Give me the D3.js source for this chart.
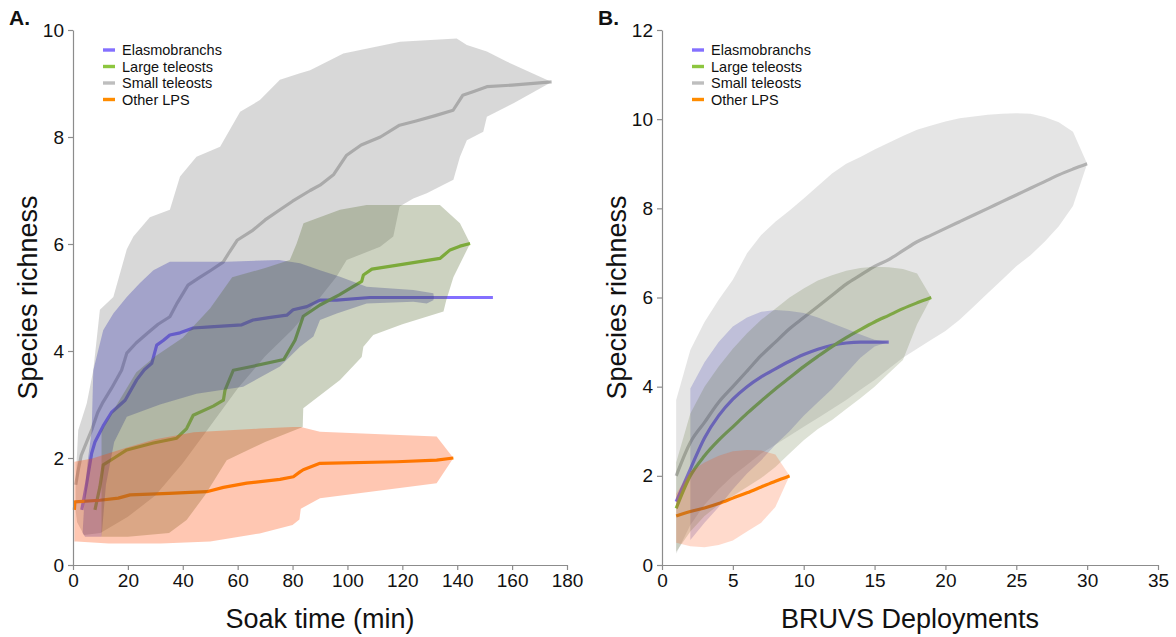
<!DOCTYPE html>
<html>
<head>
<meta charset="utf-8">
<script src="https://cdn.jsdelivr.net/npm/d3@7"></script>
<style>
  body { margin: 0; background: #fff; }
  svg { display: block; }
  text { font-family: "Liberation Sans", Arial, sans-serif; fill: #111; }
</style>
</head>
<body>
<svg id="chart" width="1176" height="637"></svg>
<script>
// ---- groups and colours ----
const groups = ["Elasmobranchs", "Large teleosts", "Small teleosts", "Other LPS"];
const lineColours = ["#8470ff", "#8dc63f", "#bebebe", "#ff8c00"];
const bandColours = ["#2828aa", "#556b2f", "#7f7f7f", "#ff4500"];

// ---- axis ticks ----
const soakTicks = [0, 20, 40, 60, 80, 100, 120, 140, 160, 180];
const soakRichnessTicks = [0, 2, 4, 6, 8, 10];
const deployTicks = [0, 5, 10, 15, 20, 25, 30, 35];
const deployRichnessTicks = [0, 2, 4, 6, 8, 10, 12];

// ---- A: richness against soak time (min), [minutes, richness] ----
const soakElasmoMean = [[3.2,1.03],[5,1.53],[6.8,2.09],[8,2.3],[11,2.6],[14,2.85],[19,3.08],[23.2,3.46],[26,3.65],[28.7,3.77],[30.5,4.11],[33,4.2],[35.3,4.3],[39,4.34],[43.8,4.43],[50,4.45],[61.5,4.49],[65.6,4.58],[72,4.63],[77.9,4.67],[80.2,4.77],[85.2,4.83],[90,4.95],[96.1,4.95],[108.2,5.0],[130,5.0],[153,5.0]];
const soakElasmoUpper = [[3.5,0.6],[4.5,1.5],[5.5,2.0],[6.8,2.5],[7.4,3.64],[11,4.39],[14.7,4.7],[19.6,5.01],[24.4,5.27],[29.3,5.51],[35.3,5.67],[56,5.67],[75,5.7],[82.7,5.64],[90,5.51],[97.3,5.39],[107,5.2],[124,5.14],[131.3,5.08],[131.5,5.0]];
const soakElasmoLower = [[3.5,0.6],[4.4,0.53],[10.4,0.53],[12,1.5],[15,2.3],[19.6,2.77],[31.7,3.0],[45,3.2],[62,3.33],[75.4,3.71],[82.7,4.08],[87.6,4.27],[90,4.58],[96.1,4.7],[107,4.89],[124,4.92],[128.9,4.89],[131.3,4.95],[131.5,5.0]];

const soakLargeMean = [[8,1.03],[9.8,1.46],[11,1.87],[15,2.0],[19.6,2.15],[29.3,2.28],[37.8,2.37],[41.4,2.55],[43.8,2.8],[51.1,2.97],[54.8,3.08],[55.4,3.27],[58.4,3.64],[66,3.72],[76.8,3.84],[80.9,4.2],[83.9,4.65],[90,4.86],[97,5.05],[105.2,5.3],[105.8,5.42],[108.9,5.53],[120,5.62],[133.7,5.73],[137.4,5.89],[141,5.96],[144.7,6.01]];
const soakLargeUpper = [[10.4,0.53],[10.4,2.5],[16,3.0],[23,3.6],[30,3.9],[40,4.25],[50,4.8],[58,5.38],[70,5.55],[79,5.7],[81.5,6.01],[84,6.39],[97.3,6.64],[107,6.73],[133.7,6.73],[141,6.39],[144.7,6.01]];
const soakLargeLower = [[10.4,0.53],[20,0.53],[35,0.6],[41.4,0.84],[48,1.3],[56,1.96],[70,2.3],[83.7,2.58],[83.9,2.93],[97.3,3.46],[105.2,3.89],[105.8,4.08],[109.4,4.3],[120,4.5],[135,4.74],[136,4.95],[138.6,5.38],[144.7,6.01]];

const soakSmallMean = [[1,1.5],[2,1.8],[3,2.05],[5,2.3],[7,2.55],[9,2.85],[11,3.05],[14,3.3],[17.7,3.64],[19.6,3.96],[23,4.15],[27.3,4.34],[31,4.5],[35.3,4.64],[38,4.9],[41.9,5.23],[46.3,5.38],[50,5.5],[54.7,5.66],[57,5.85],[59.8,6.07],[65.6,6.26],[70,6.45],[75.4,6.64],[80,6.8],[86.4,7.0],[90,7.1],[95,7.3],[99.7,7.66],[105,7.85],[112,8.0],[119,8.22],[125,8.3],[132,8.4],[138.5,8.5],[142,8.78],[146,8.85],[150.8,8.94],[160,8.97],[174.4,9.03]];
const soakSmallUpper = [[1,1.0],[1,1.6],[1.9,2.52],[5,3.02],[7.4,3.64],[9.8,4.77],[14.7,5.01],[19.6,5.9],[22,6.14],[28,6.5],[35.3,6.64],[39,7.26],[45,7.63],[53.6,7.82],[60.9,8.47],[68.1,8.69],[75.4,9.07],[82.7,9.19],[86.4,9.25],[98.5,9.56],[119.2,9.78],[139.8,9.84],[143.5,9.72],[150.8,9.6],[158,9.41],[174.4,9.03]];
const soakSmallLower = [[1,1.0],[1.5,0.8],[4,0.56],[10,0.6],[20,0.9],[30,1.3],[40,1.9],[50,2.6],[60,3.3],[70,3.9],[80,4.4],[90,5.0],[96,5.39],[99.7,5.7],[111.9,5.95],[116.7,6.14],[119,6.7],[124,6.85],[128.9,6.95],[138.6,7.2],[141,7.63],[143.5,7.94],[149.5,8.1],[150.8,8.38],[160.5,8.63],[174.4,9.03]];

const soakOtherMean = [[0.5,1.03],[0.7,1.18],[9.8,1.21],[16.5,1.25],[20.8,1.31],[35,1.34],[48.7,1.37],[54.8,1.45],[63.3,1.53],[75.4,1.6],[80.3,1.65],[82.7,1.74],[83.9,1.78],[90,1.9],[118,1.93],[132.5,1.96],[138.6,2.0]];
const soakOtherUpper = [[0.5,0.44],[0.5,1.93],[7,1.99],[20,2.2],[30,2.35],[44,2.48],[68,2.55],[80,2.58],[83,2.58],[90,2.49],[110,2.45],[132.5,2.4],[138.6,2.0]];
const soakOtherLower = [[0.5,0.44],[1.3,0.44],[13,0.4],[32,0.4],[50,0.44],[68,0.59],[80,0.75],[82.5,0.85],[83,1.05],[90,1.25],[132.5,1.53],[138.6,2.0]];

// ---- B: richness against number of BRUVS deployments ----
const deployN = [1, 2, 3, 4, 5, 6, 7, 8, 9, 10, 11, 12, 13, 14, 15, 16, 17, 18, 19, 20, 21, 22, 23, 24, 25, 26, 27, 28, 29, 30];

const deployElasmoMean  = [1.42, 2.15, 2.85, 3.35, 3.72, 4.0, 4.22, 4.4, 4.57, 4.72, 4.84, 4.93, 4.98, 5.0, 5.0, 5.0];
const deployElasmoBandN = [2, 3, 4, 5, 6, 7, 8, 9, 10, 11, 12, 13, 14, 15, 16];
const deployElasmoUpper = [3.96, 4.55, 5.0, 5.35, 5.55, 5.68, 5.72, 5.7, 5.65, 5.55, 5.42, 5.3, 5.17, 5.05, 5.0];
const deployElasmoLower = [0.56, 0.95, 1.3, 1.7, 2.05, 2.35, 2.7, 3.0, 3.35, 3.65, 3.95, 4.3, 4.65, 4.9, 5.0];

const deployLargeMean  = [1.27, 2.0, 2.45, 2.8, 3.1, 3.4, 3.68, 3.95, 4.2, 4.45, 4.68, 4.9, 5.1, 5.28, 5.45, 5.6, 5.75, 5.88, 6.0];
const deployLargeUpper = [2.3, 3.4, 4.0, 4.45, 4.85, 5.2, 5.5, 5.75, 6.0, 6.2, 6.38, 6.5, 6.6, 6.66, 6.69, 6.68, 6.64, 6.54, 6.0];
const deployLargeLower = [0.3, 0.75, 1.1, 1.35, 1.55, 1.75, 1.95, 2.2, 2.5, 2.8, 3.05, 3.25, 3.5, 3.74, 4.0, 4.3, 4.6, 5.4, 6.0];

const deploySmallMean  = [2.0, 2.75, 3.2, 3.65, 4.0, 4.35, 4.7, 5.0, 5.3, 5.55, 5.8, 6.05, 6.3, 6.5, 6.7, 6.85, 7.05, 7.25, 7.4, 7.55, 7.7, 7.85, 8.0, 8.15, 8.3, 8.45, 8.6, 8.75, 8.88, 9.0];
const deploySmallUpper = [3.7, 4.82, 5.45, 5.95, 6.4, 6.99, 7.4, 7.7, 7.95, 8.22, 8.5, 8.78, 9.0, 9.15, 9.32, 9.47, 9.62, 9.76, 9.86, 9.95, 10.02, 10.06, 10.1, 10.12, 10.13, 10.12, 10.05, 9.93, 9.72, 9.0];
const deploySmallLower = [0.25, 0.9, 1.35, 1.7, 2.0, 2.25, 2.5, 2.7, 2.9, 3.1, 3.3, 3.5, 3.7, 3.93, 4.15, 4.4, 4.65, 4.85, 5.05, 5.25, 5.5, 5.8, 6.1, 6.4, 6.7, 6.95, 7.25, 7.6, 8.05, 9.0];

const deployOtherMean  = [1.1, 1.2, 1.28, 1.38, 1.5, 1.62, 1.75, 1.88, 2.0];
const deployOtherUpper = [1.6, 2.1, 2.3, 2.45, 2.55, 2.58, 2.57, 2.48, 2.0];
const deployOtherLower = [0.5, 0.42, 0.4, 0.45, 0.55, 0.75, 0.95, 1.3, 2.0];

// ---- assemble the two panels ----
const zipN = (ns, vals) => vals.map((v, i) => [ns[i], v]);

const panelA = {
  label: "A.", xTitle: "Soak time (min)",
  xDomain: [0, 180], yDomain: [0, 10], xTicks: soakTicks, yTicks: soakRichnessTicks,
  xRange: [73, 567], yRange: [565, 30], labelX: 9, legendX: 103,
  bandAlpha: 0.3, smooth: false,
  series: [
    { mean: soakElasmoMean, upper: soakElasmoUpper, lower: soakElasmoLower },
    { mean: soakLargeMean,  upper: soakLargeUpper,  lower: soakLargeLower },
    { mean: soakSmallMean,  upper: soakSmallUpper,  lower: soakSmallLower },
    { mean: soakOtherMean,  upper: soakOtherUpper,  lower: soakOtherLower }
  ]
};

const panelB = {
  label: "B.", xTitle: "BRUVS Deployments",
  xDomain: [0, 35], yDomain: [0, 12], xTicks: deployTicks, yTicks: deployRichnessTicks,
  xRange: [662, 1158], yRange: [565, 30], labelX: 598, legendX: 692,
  bandAlpha: 0.2, smooth: true,
  series: [
    { mean: zipN(deployN, deployElasmoMean), upper: zipN(deployElasmoBandN, deployElasmoUpper), lower: zipN(deployElasmoBandN, deployElasmoLower) },
    { mean: zipN(deployN, deployLargeMean),  upper: zipN(deployN, deployLargeUpper),  lower: zipN(deployN, deployLargeLower) },
    { mean: zipN(deployN, deploySmallMean),  upper: zipN(deployN, deploySmallUpper),  lower: zipN(deployN, deploySmallLower) },
    { mean: zipN(deployN, deployOtherMean),  upper: zipN(deployN, deployOtherUpper),  lower: zipN(deployN, deployOtherLower) }
  ]
};

const svg = d3.select("#chart");

function drawPanel(p) {
  const x = d3.scaleLinear().domain(p.xDomain).range(p.xRange);
  const y = d3.scaleLinear().domain(p.yDomain).range(p.yRange);
  const g = svg.append("g");

  // mean curves sit underneath the translucent bands
  const line = d3.line().x(d => x(d[0])).y(d => y(d[1]))
    .curve(p.smooth ? d3.curveMonotoneX : d3.curveLinear);
  p.series.forEach((s, i) => {
    g.append("path").datum(s.mean)
      .attr("fill", "none").attr("stroke", lineColours[i])
      .attr("stroke-width", 3.2).attr("stroke-linejoin", "round")
      .attr("d", line);
  });

  // confidence envelopes: upper edge forward, lower edge back
  const poly = d3.line().x(d => x(d[0])).y(d => y(d[1]));
  const order = [2, 0, 1, 3];
  order.forEach(i => {
    const s = p.series[i];
    const pts = s.upper.concat(s.lower.slice().reverse());
    g.append("path").datum(pts)
      .attr("fill", bandColours[i]).attr("fill-opacity", p.bandAlpha)
      .attr("stroke", "none")
      .attr("d", poly(pts) + "Z");
  });

  // axes
  const xAxis = g.append("g").attr("transform", `translate(0,${p.yRange[0]})`)
    .call(d3.axisBottom(x).tickValues(p.xTicks).tickSize(5).tickSizeOuter(0).tickPadding(4));
  const yAxis = g.append("g").attr("transform", `translate(${p.xRange[0]},0)`)
    .call(d3.axisLeft(y).tickValues(p.yTicks).tickSize(5).tickSizeOuter(0).tickPadding(4));
  [xAxis, yAxis].forEach(a => {
    a.selectAll("path, line").attr("stroke", "#8c8c8c").attr("stroke-width", 1.2);
    a.selectAll("text").style("font-size", "19px").attr("fill", "#111");
  });

  // titles
  const cx = (p.xRange[0] + p.xRange[1]) / 2;
  g.append("text").attr("x", cx).attr("y", 628).attr("text-anchor", "middle")
    .style("font-size", "27px").text(p.xTitle);
  g.append("text")
    .attr("transform", `translate(${p.xRange[0] - 36},${(p.yRange[0] + p.yRange[1]) / 2}) rotate(-90)`)
    .attr("text-anchor", "middle").style("font-size", "27px").text("Species richness");
  g.append("text").attr("x", p.labelX).attr("y", 25)
    .style("font-size", "21px").style("font-weight", "bold").text(p.label);

  // legend
  const step = 16.5;
  const lg = g.append("g").attr("transform", `translate(${p.legendX},50)`);
  groups.forEach((name, i) => {
    lg.append("rect").attr("x", 0).attr("y", i * step - 1.7)
      .attr("width", 12).attr("height", 3.4).attr("fill", lineColours[i]);
    lg.append("text").attr("x", 19).attr("y", i * step).attr("dy", "0.36em")
      .style("font-size", "14.5px").text(name);
  });
}

drawPanel(panelA);
drawPanel(panelB);
</script>
</body>
</html>
